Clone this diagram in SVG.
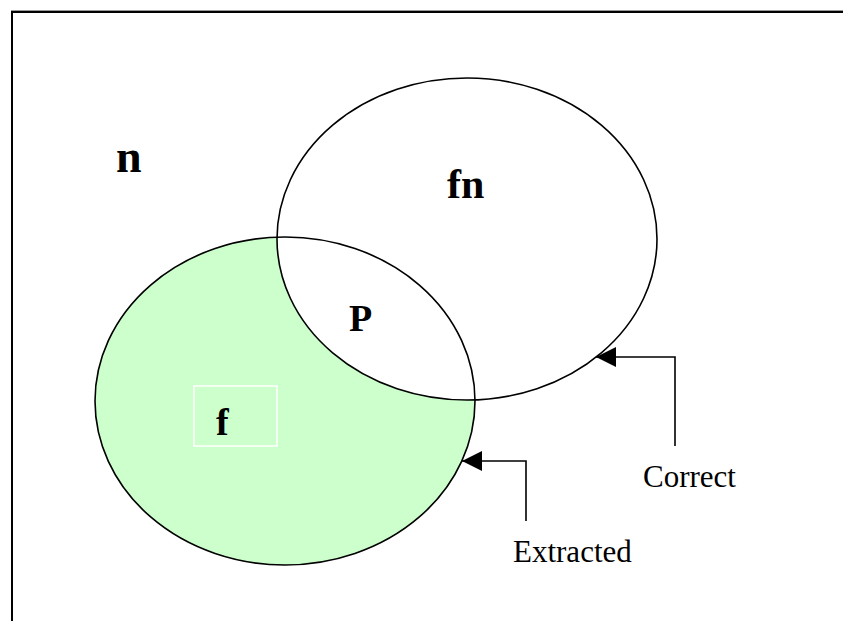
<svg xmlns="http://www.w3.org/2000/svg" width="843" height="621" viewBox="0 0 843 621">
<style>
.lbl{font-family:"Liberation Serif","Times New Roman",serif;font-weight:bold;fill:#000}
.cap{font-family:"Liberation Serif","Times New Roman",serif;fill:#000}
.ln{fill:none;stroke:#000;stroke-width:1.6}
</style>
<defs>
<marker id="ah" viewBox="0 0 20 20" refX="20" refY="10" markerWidth="20" markerHeight="20" markerUnits="userSpaceOnUse" orient="auto">
<path d="M20,10 L0,0 L0,20 Z" fill="#000"/>
</marker>
</defs>
<rect width="843" height="621" fill="#fff"/>
<g id="frame">
<line x1="11" y1="10.5" x2="843" y2="10.5" stroke="#999" stroke-width="1"/>
<line x1="11" y1="12" x2="843" y2="12" stroke="#000" stroke-width="2"/>
<line x1="12" y1="11" x2="12" y2="621" stroke="#000" stroke-width="2"/>
</g>
<g id="extracted-set">
<ellipse cx="285" cy="401" rx="190" ry="164" fill="#ccffcc" stroke="none"/>
</g>
<g id="correct-set">
<ellipse cx="467" cy="239" rx="190" ry="161" style="fill:#fff;stroke:#000;stroke-width:1.6"/>
</g>
<g id="extracted-outline">
<ellipse cx="285" cy="401" rx="190" ry="164" class="ln"/>
</g>
<g id="label-n"><text class="lbl" x="116" y="172" font-size="46">n</text></g>
<g id="label-fn"><text class="lbl" x="447" y="198" font-size="42">fn</text></g>
<g id="label-p"><text class="lbl" x="349" y="331" font-size="38">P</text></g>
<g id="label-f">
<rect x="194" y="386" width="83" height="60" fill="none" stroke="#fff" stroke-width="1.5"/>
<text class="lbl" x="216" y="435" font-size="38">f</text>
</g>
<g id="connectors">
<polyline class="ln" points="675,446 675,357 596,357" marker-end="url(#ah)"/>
<polyline class="ln" points="526,521 526,461 462,461" marker-end="url(#ah)"/>
</g>
<g id="caption-correct"><text class="cap" x="643" y="487" font-size="31">Correct</text></g>
<g id="caption-extracted"><text class="cap" x="513" y="562" font-size="31">Extracted</text></g>
</svg>
